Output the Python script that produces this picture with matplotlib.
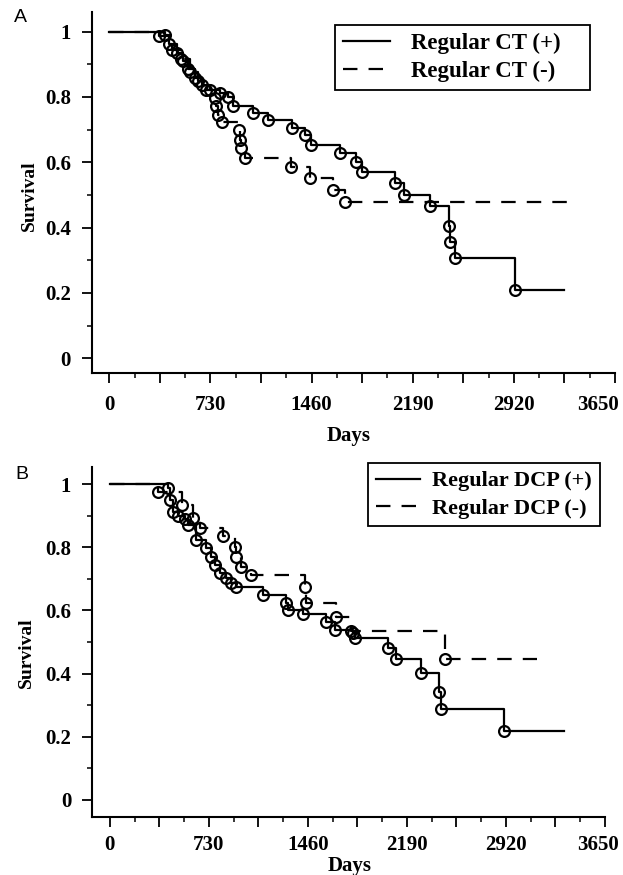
import matplotlib
matplotlib.use("Agg")
import matplotlib.pyplot as plt
from matplotlib.ticker import FixedLocator, MultipleLocator, FuncFormatter
from matplotlib.transforms import ScaledTranslation

# Panel A - regular CT follow-up (Kaplan-Meier, events marked)
ct_pos_days = [360, 430, 490, 530, 570, 620, 670, 726, 798, 858, 895, 1038, 1146,
               1322, 1410, 1458, 1662, 1783, 1823, 2059, 2124, 2318, 2455, 2462,
               2498, 2931]
ct_pos_surv = [0.985, 0.962, 0.935, 0.91, 0.885, 0.858, 0.835, 0.822, 0.812, 0.80,
               0.771, 0.751, 0.728, 0.705, 0.684, 0.653, 0.628, 0.602, 0.571,
               0.538, 0.50, 0.465, 0.406, 0.357, 0.308, 0.209]
ct_pos_end = 3283

ct_neg_days = [400, 450, 520, 580, 640, 700, 762, 770, 788, 810, 938, 945, 954,
               978, 1314, 1446, 1615, 1698]
ct_neg_surv = [0.99, 0.945, 0.915, 0.875, 0.848, 0.82, 0.797, 0.771, 0.745, 0.722,
               0.699, 0.669, 0.643, 0.614, 0.585, 0.551, 0.515, 0.479]
ct_neg_end = 3320

# Panel B - regular DCP follow-up
dcp_pos_days = [429, 440, 466, 503, 552, 576, 638, 711, 748, 773, 809, 859, 896,
                932, 1128, 1300, 1312, 1422, 1594, 1656, 1790, 1810, 2048, 2110,
                2294, 2423, 2441, 2906]
dcp_pos_surv = [0.986, 0.949, 0.912, 0.90, 0.89, 0.87, 0.823, 0.796, 0.77, 0.744,
                0.717, 0.702, 0.686, 0.675, 0.649, 0.622, 0.601, 0.59, 0.564,
                0.538, 0.527, 0.514, 0.48, 0.445, 0.403, 0.343, 0.287, 0.218]
dcp_pos_end = 3348

dcp_neg_days = [355, 528, 613, 662, 834, 920, 932, 969, 1043, 1435, 1447, 1668,
                1779, 2470]
dcp_neg_surv = [0.976, 0.934, 0.891, 0.862, 0.836, 0.802, 0.77, 0.738, 0.712,
                0.675, 0.622, 0.58, 0.535, 0.445]
dcp_neg_end = 3150

x_ticks = list(range(0, 3651, 365))
y_ticks = [0, 0.2, 0.4, 0.6, 0.8, 1]

SERIF = "Liberation Serif"
plt.rcParams["font.family"] = SERIF
plt.rcParams["font.weight"] = "bold"


def km_curve(ax, days, surv, end, dashed, label):
    xs = [0] + days + [end]
    ys = [1.0] + surv + [surv[-1]]
    line, = ax.step(xs, ys, where="post", color="black", lw=1.6, label=label)
    if dashed:
        line.set_dashes((6.5, 5))
    ax.plot(days, surv, "o", ms=7.8, mfc="none", mec="black", mew=1.6, zorder=3)
    return line


def style_axes(ax, xlim, ylim, pad_x):
    ax.set_xlim(*xlim)
    ax.set_ylim(*ylim)
    for s in ["top", "right"]:
        ax.spines[s].set_visible(False)
    for s in ["left", "bottom"]:
        ax.spines[s].set_linewidth(1.5)
    ax.xaxis.set_major_locator(FixedLocator(x_ticks))
    ax.xaxis.set_major_formatter(FuncFormatter(
        lambda v, p: "%d" % v if int(round(v)) % 730 == 0 else ""))
    ax.xaxis.set_minor_locator(MultipleLocator(182.5))
    ax.yaxis.set_major_locator(FixedLocator(y_ticks))
    ax.yaxis.set_major_formatter(FuncFormatter(
        lambda v, p: "%d" % v if v in (0, 1) else "%.1f" % v))
    ax.yaxis.set_minor_locator(MultipleLocator(0.1))
    ax.tick_params(axis="both", which="major", direction="out", length=7,
                   width=1.3, labelsize=15)
    ax.tick_params(axis="both", which="minor", direction="out", length=3.5,
                   width=1.1)
    ax.tick_params(axis="x", which="major", pad=pad_x)
    ax.tick_params(axis="y", which="major", pad=8)
    for lbl in ax.get_xticklabels() + ax.get_yticklabels():
        lbl.set_fontweight("bold")
    ax.set_xlabel("Days", fontsize=15, fontweight="bold")
    ax.set_ylabel("Survival", fontsize=14, fontweight="bold")


def box_legend(ax, handles, bbox, size, hlen, hpad):
    leg = ax.legend(handles=handles, loc="upper left", bbox_to_anchor=bbox,
                    mode="expand", borderaxespad=0, fancybox=False,
                    edgecolor="black", framealpha=1,
                    prop={"family": SERIF, "weight": "bold", "size": size},
                    handlelength=hlen, borderpad=0.35, labelspacing=0.3,
                    handletextpad=hpad)
    leg.get_frame().set_linewidth(1.3)
    return leg


def shift_last_label(fig, ax, dx_px):
    lab = ax.xaxis.get_major_ticks()[-1].label1
    lab.set_horizontalalignment("right")
    lab.set_transform(lab.get_transform()
                      + ScaledTranslation(dx_px / 100, 0, fig.dpi_scale_trans))


fig = plt.figure(figsize=(6.23, 8.75), dpi=100)

# panel A
axA = fig.add_axes([0.1472, 0.5737, 0.840, 0.4126])
l1 = km_curve(axA, ct_pos_days, ct_pos_surv, ct_pos_end, False, "Regular CT (+)")
l2 = km_curve(axA, ct_neg_days, ct_neg_surv, ct_neg_end, True, "Regular CT (-)")
style_axes(axA, (-127, 3650), (-0.045, 1.06), 9)
axA.xaxis.set_label_coords(0.491, -0.146)
axA.yaxis.set_label_coords(-0.103, 0.49)
box_legend(axA, [l1, l2], (0.465, 0.0, 0.487, 0.964), 16.5, 2.05, 0.9)
shift_last_label(fig, axA, 4)

# panel B
axB = fig.add_axes([0.1477, 0.0663, 0.8234, 0.40])
l3 = km_curve(axB, dcp_pos_days, dcp_pos_surv, dcp_pos_end, False, "Regular DCP (+)")
l4 = km_curve(axB, dcp_neg_days, dcp_neg_surv, dcp_neg_end, True, "Regular DCP (-)")
style_axes(axB, (-132, 3650), (-0.054, 1.054), 6)
axB.xaxis.set_label_coords(0.503, -0.112)
axB.yaxis.set_label_coords(-0.111, 0.47)
box_legend(axB, [l3, l4], (0.538, 0.0, 0.452, 1.011), 16, 2.0, 0.55)
shift_last_label(fig, axB, 14)

fig.text(20 / 623, 1 - 17 / 875, "A", family="Liberation Sans", fontsize=14,
         fontweight="normal", ha="center", va="center")
fig.text(21.5 / 623, 1 - 475 / 875, "B", family="Liberation Sans", fontsize=14,
         fontweight="normal", ha="center", va="center")

fig.savefig("out.png", dpi=100)
